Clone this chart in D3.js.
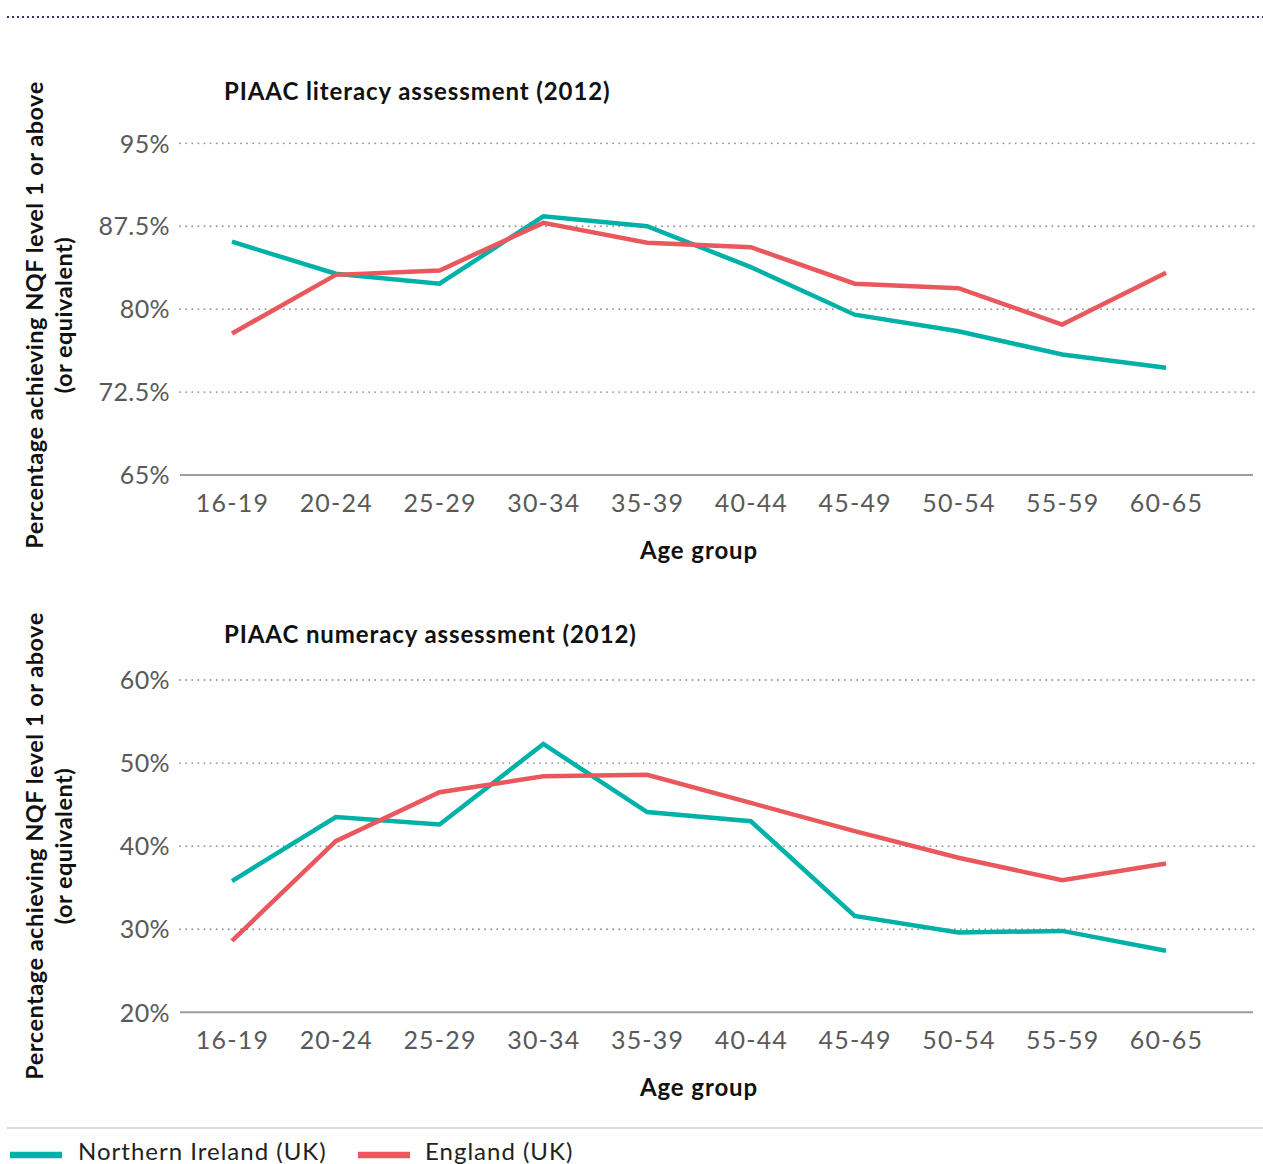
<!DOCTYPE html>
<html><head><meta charset="utf-8">
<script src="https://cdn.jsdelivr.net/npm/d3@7"></script>
<style>
body{margin:0;background:#fff;}
svg{display:block;font-family:Lato,"Noto Sans",sans-serif;}
</style></head>
<body><svg id="c" width="1263" height="1164"></svg>
<script>
const ageGroups = ["16-19","20-24","25-29","30-34","35-39","40-44","45-49","50-54","55-59","60-65"];
const literacyNI = [86.1,83.2,82.3,88.4,87.5,83.8,79.5,78.0,75.9,74.7];
const literacyEN = [77.8,83.1,83.5,87.8,86.0,85.6,82.3,81.9,78.6,83.3];
const numeracyNI = [35.8,43.5,42.6,52.3,44.1,43.0,31.6,29.6,29.8,27.4];
const numeracyEN = [28.6,40.6,46.5,48.4,48.6,45.2,41.8,38.6,35.9,37.9];
const literacyTicks = [65,72.5,80,87.5,95];
const numeracyTicks = [20,30,40,50,60];
const seriesNames = ["Northern Ireland (UK)","England (UK)"];
const colors = ["#00b1a7","#e8585c"];

const svg = d3.select("#c");

// top dotted line
svg.append("line").attr("x1",7).attr("x2",1263).attr("y1",17).attr("y2",17)
  .attr("stroke","#34336a").attr("stroke-width",2).attr("stroke-dasharray","2,3");

function panel(opts){
  const g = svg.append("g");
  const x = d3.scalePoint().domain(ageGroups).range([232,1166]);
  const y = d3.scaleLinear().domain([opts.ticks[0], opts.ticks[opts.ticks.length-1]]).range([opts.y0, opts.y1]);
  // title
  g.append("text").attr("x",224).attr("y",opts.titleY).attr("font-weight",700)
    .attr("font-size",24).attr("letter-spacing","0.9px").attr("fill","#111").text(opts.title);
  // gridlines
  opts.ticks.forEach((t,i)=>{
    if(i===0) return;
    g.append("line").attr("x1",180).attr("x2",1258).attr("y1",y(t)).attr("y2",y(t))
      .attr("stroke","#959595").attr("stroke-width",1.8).attr("stroke-dasharray","0.1,6")
      .attr("stroke-linecap","round");
  });
  // y axis
  const ya = d3.axisLeft(y).tickValues(opts.ticks).tickFormat(d=>d+"%").tickSize(0).tickPadding(0);
  const yg = g.append("g").attr("transform","translate(170,0)").call(ya);
  yg.select(".domain").remove();
  yg.selectAll("text").attr("font-size",25).attr("fill","#595959").attr("font-family","Lato,sans-serif")
    .attr("letter-spacing","0.4px").attr("dy","0.35em");
  // baseline
  g.append("line").attr("x1",180).attr("x2",1253).attr("y1",y(opts.ticks[0])).attr("y2",y(opts.ticks[0]))
    .attr("stroke","#9d9d9d").attr("stroke-width",2);
  // x axis
  const xa = d3.axisBottom(x).tickSize(0).tickPadding(0);
  const xg = g.append("g").attr("transform",`translate(0,${opts.y0})`).call(xa);
  xg.select(".domain").remove();
  xg.selectAll("text").attr("font-size",25).attr("fill","#595959").attr("font-family","Lato,sans-serif")
    .attr("letter-spacing","1.2px").attr("dy",0).attr("y",opts.xLabelDy);
  // x title
  g.append("text").attr("x",699).attr("y",opts.y0+84).attr("text-anchor","middle").attr("font-weight",700)
    .attr("font-size",24).attr("letter-spacing","0.9px").attr("fill","#111").text("Age group");
  // y title
  const yt = g.append("text").attr("transform",`translate(0,${opts.yTitleC}) rotate(-90)`)
    .attr("text-anchor","middle").attr("font-weight",700).attr("font-size",23.5)
    .attr("letter-spacing","0.5px").attr("fill","#111");
  yt.append("tspan").attr("x",0).attr("y",43).text("Percentage achieving NQF level 1 or above");
  yt.append("tspan").attr("x",0).attr("y",72).text("(or equivalent)");
  // lines
  const line = d3.line().x((d,i)=>x(ageGroups[i])).y(d=>y(d));
  [opts.ni, opts.en].forEach((s,k)=>{
    g.append("path").datum(s).attr("d",line).attr("fill","none")
      .attr("stroke",colors[k]).attr("stroke-width",4.5).attr("stroke-linejoin","miter");
  });
}

panel({title:"PIAAC literacy assessment (2012)", titleY:100, ticks:literacyTicks, y0:475, y1:143.3,
  ni:literacyNI, en:literacyEN, xLabelDy:37, yTitleC:315});
panel({title:"PIAAC numeracy assessment (2012)", titleY:643, ticks:numeracyTicks, y0:1012.3, y1:680,
  ni:numeracyNI, en:numeracyEN, xLabelDy:37, yTitleC:846});

// separator
svg.append("line").attr("x1",7).attr("x2",1263).attr("y1",1128).attr("y2",1128)
  .attr("stroke","#cfcfcf").attr("stroke-width",1.5);

// legend
const leg = svg.append("g");
const legX = [10,358];
seriesNames.forEach((n,i)=>{
  leg.append("line").attr("x1",legX[i]).attr("x2",legX[i]+52).attr("y1",1155).attr("y2",1155)
    .attr("stroke",colors[i]).attr("stroke-width",6.5);
  leg.append("text").attr("x",legX[i]+(i===0?68:67)).attr("y",1160).attr("font-size",24)
    .attr("letter-spacing","1px").attr("fill","#222").text(n);
});
</script></body></html>
